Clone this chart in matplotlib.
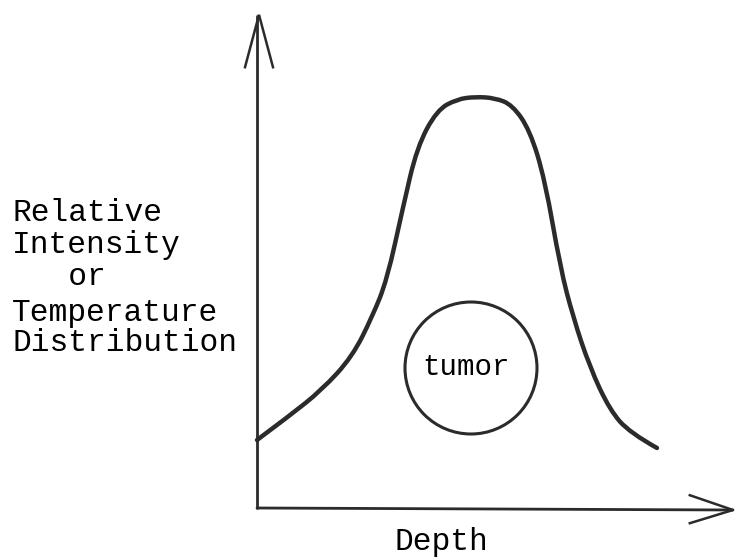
import matplotlib
matplotlib.use("Agg")
import matplotlib.pyplot as plt
from matplotlib.patches import Circle, PathPatch
from matplotlib.path import Path

# Sketch curve: relative intensity vs depth
depth = [0.0, 0.78, 1.62, 2.38, 2.88, 3.25, 3.65, 4.0, 4.5, 5.0, 5.45,
         5.95, 6.38, 6.82, 7.2, 7.58, 7.9, 8.32, 8.82, 9.32, 10.0]
intensity = [1.70, 2.28, 2.95, 3.78, 4.78, 5.70, 7.52, 9.02, 9.95, 10.22, 10.28,
             10.25, 10.08, 9.45, 8.20, 6.02, 4.78, 3.52, 2.45, 1.88, 1.50]

y_label_lines = ["Relative", "Intensity", "   or", "Temperature", "Distribution"]
x_label = "Depth"
tumor_label = "tumor"
tumor_center = (5.35, 3.5)
tumor_radius = 1.65

FONT = ["Liberation Mono", "DejaVu Sans Mono"]
INK = "#2b2b2b"

fig = plt.figure(figsize=(7.35, 5.58), dpi=100)
ax = fig.add_axes([0, 0, 1, 1])
ax.set_xlim(-257 / 40, (735 - 257) / 40)
ax.set_ylim((508 - 558) / 40, 508 / 40)
ax.axis("off")

# axes lines with open arrowheads
ax.plot([0, 0], [0, 12.3], color=INK, lw=2.0, solid_capstyle="round")
ax.plot([-0.3, 0.05, 0.4], [11.02, 12.33, 11.02], color=INK, lw=1.8,
        solid_joinstyle="miter")
ax.plot([0, 11.9], [0, -0.05], color=INK, lw=2.0, solid_capstyle="round")
ax.plot([10.82, 11.9, 10.82], [0.32, -0.05, -0.38], color=INK, lw=1.8,
        solid_joinstyle="miter")

# the intensity curve, drawn as a smooth quadratic path through the read points
pts = list(zip(depth, intensity))
verts = [pts[0]]
codes = [Path.MOVETO]
for i in range(1, len(pts) - 1):
    mid = ((pts[i][0] + pts[i + 1][0]) / 2, (pts[i][1] + pts[i + 1][1]) / 2)
    if i == len(pts) - 2:
        mid = pts[-1]
    verts += [pts[i], mid]
    codes += [Path.CURVE3, Path.CURVE3]
ax.add_patch(PathPatch(Path(verts, codes), fill=False, ec=INK, lw=3.2,
                       capstyle="round", joinstyle="round"))

# tumor circle
ax.add_patch(Circle(tumor_center, tumor_radius, fill=False, ec=INK, lw=2.2))
ax.text(tumor_center[0] - 0.12, tumor_center[1] + 0.03, tumor_label,
        family=FONT, fontsize=21, ha="center", va="center", color="black")

# x label
ax.text(4.6, -0.85, x_label, family=FONT, fontsize=22.5, ha="center",
        va="center", color="black")

# y label lines
y_rows = [213, 245, 277, 313, 343]
for line, py in zip(y_label_lines, y_rows):
    fig.text(12 / 735, 1 - py / 558, line, family=FONT, fontsize=22.5,
             ha="left", va="center", color="black")

fig.savefig("out.png", dpi=100)
